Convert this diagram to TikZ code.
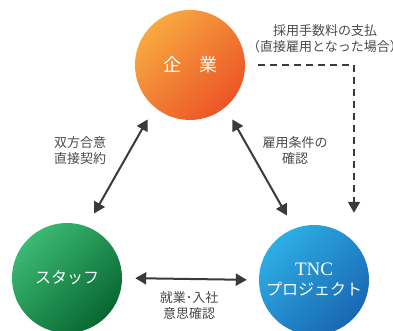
\documentclass[tikz,border=0pt]{standalone}
\usepackage{fontspec}
\usepackage{xcolor}
\newfontfamily\jpfont{Noto Sans CJK JP}
\newfontfamily\tncfont{Liberation Serif}
\usetikzlibrary{arrows.meta}
\definecolor{orangeA}{HTML}{F8A940}
\definecolor{orangeB}{HTML}{EC5426}
\definecolor{greenA}{HTML}{3BBA74}
\definecolor{greenB}{HTML}{086630}
\definecolor{blueA}{HTML}{2DAEE4}
\definecolor{blueB}{HTML}{1967B3}
\definecolor{arrowgray}{HTML}{3A3A3A}
\definecolor{textgray}{HTML}{4A4A4A}

\begin{document}
\begin{tikzpicture}[x=1pt,y=-1pt,
  ball/.style={circle,minimum size=110pt,inner sep=0pt,text=white,align=center},
  tilt/.style={shading angle=45},
  link/.style={draw=arrowgray,line width=2pt,{Triangle[length=11pt,width=12pt]}-{Triangle[length=11pt,width=12pt]}},
  fee/.style={draw=arrowgray,line width=2pt,dash pattern=on 7pt off 5pt,-{Triangle[length=11pt,width=12pt]}},
  note/.style={text=textgray,font=\jpfont\fontsize{13}{16}\selectfont,align=center}]
\useasboundingbox (0,0) rectangle (393,331);
% NODES
\node[ball,top color=orangeA,bottom color=orangeB,tilt,font=\jpfont\fontsize{18}{20}\selectfont] (kigyo) at (190,65) {企　業};
\node[ball,top color=greenA,bottom color=greenB,tilt,font=\jpfont\fontsize{16}{18}\selectfont] (staff) at (67,278) {スタッフ};
\node[ball,top color=blueA,bottom color=blueB,tilt,font=\jpfont\fontsize{16}{20}\selectfont] (tnc) at (314,280) {{\tncfont\fontsize{19}{20}\selectfont TNC}\\プロジェクト};
\coordinate (corner) at (354,65);
% CONNECTIONS
\draw[link,shorten <=15pt,shorten >=14pt] (staff.69) -- (kigyo.230);
\draw[link,shorten <=14pt,shorten >=15pt] (kigyo.310) -- (tnc.111);
\draw[link,shorten <=13pt,shorten >=12pt] (staff.east) -- (tnc.west);
\draw[fee,shorten <=13pt,shorten >=12pt] (kigyo.east) -- (corner) -- (corner |- tnc.north);
% NODE NAMES
\node[note] (feenote) at (325,39) {採用手数料の支払\\（直接雇用となった場合）};
\node[note] (keiyaku) at (80,151) {双方合意\\直接契約};
\node[note] (joken) at (295,151) {雇用条件の\\確認};
\node[note] (ishi) at (189,306) {就業･入社\\意思確認};
\end{tikzpicture}
\end{document}
